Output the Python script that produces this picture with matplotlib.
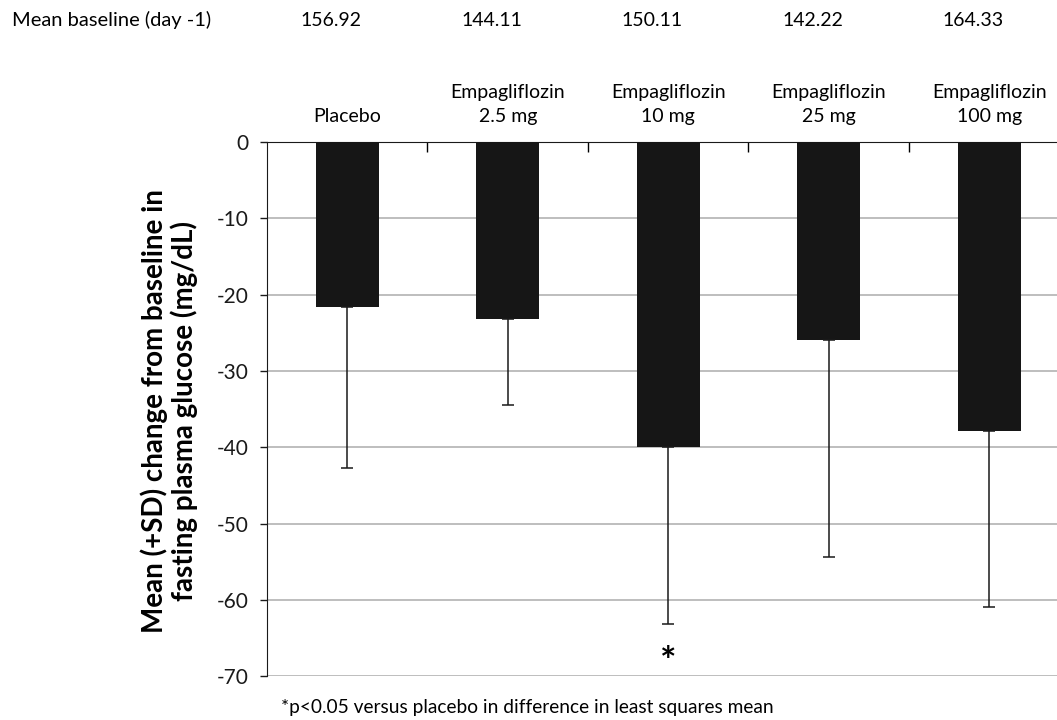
import matplotlib
matplotlib.use("Agg")
import matplotlib.pyplot as plt
import matplotlib.transforms as mtransforms

plt.rcParams['font.family'] = ['Lato', 'DejaVu Sans']
plt.rcParams['axes.unicode_minus'] = False

groups = ['Placebo', 'Empagliflozin\n2.5 mg', 'Empagliflozin\n10 mg',
          'Empagliflozin\n25 mg', 'Empagliflozin\n100 mg']
baseline = ['156.92', '144.11', '150.11', '142.22', '164.33']
mean_change = [-21.6, -23.2, -40.0, -26.0, -37.9]
sd = [21.1, 11.2, 23.2, 28.4, 23.0]
significant = [False, False, True, False, False]

fig = plt.figure(figsize=(10.57, 7.2), dpi=100)
ax = fig.add_axes([267 / 1057, 0.0607, 0.7592, 0.7421])

x = list(range(len(groups)))
ax.bar(x, mean_change, width=0.395, color='#161616', zorder=3)
ax.errorbar(x, mean_change, yerr=[sd, [0] * len(sd)], fmt='none',
            ecolor='#1a1a1a', elinewidth=1.1, capsize=4, capthick=1.1, zorder=4)

ax.set_xlim(-0.5, 4.5)
ax.set_ylim(-70, 0)
ax.set_yticks(range(-70, 1, 10))
ax.yaxis.grid(True, color='#b3b3b3', linewidth=1.2, zorder=0)
ax.tick_params(axis='y', direction='out', length=5, width=1, labelsize=15, pad=8,
               colors='#1a1a1a')

# category axis sits on top at zero
ax.xaxis.set_ticks_position('top')
ax.set_xticks([i + 0.5 for i in x[:-1]])
ax.set_xticklabels([])
ax.tick_params(axis='x', which='major', direction='in', length=7, width=1)
ax.set_xticks(x, minor=True)
ax.set_xticklabels(groups, minor=True, fontsize=14, linespacing=1.5)
ax.tick_params(axis='x', which='minor', length=0, pad=12, top=True, bottom=False,
               labeltop=True, labelbottom=False)

for s in ['right', 'bottom']:
    ax.spines[s].set_visible(False)
ax.spines['left'].set_color('#1a1a1a')
ax.spines['top'].set_color('#1a1a1a')

for i, flag in enumerate(significant):
    if flag:
        ax.text(i, -68.2, '*', ha='center', va='center', fontsize=28, fontweight='bold')

trans = mtransforms.blended_transform_factory(ax.transData, fig.transFigure)
top_y = 1 - 20 / 720
fig.text(12 / 1057, top_y, 'Mean baseline (day -1)', ha='left', va='center', fontsize=14.5)
for i, b in enumerate(baseline):
    ax.text(i - 0.1, top_y, b, transform=trans, ha='center', va='center', fontsize=14)

fig.text(169 / 1057, 1 - 411 / 720,
         'Mean (+SD) change from baseline in\nfasting plasma glucose (mg/dL)',
         rotation=90, ha='center', va='center', fontsize=20, fontweight='bold',
         linespacing=1.1)

fig.text(281 / 1057, 1 - 707 / 720,
         '*p<0.05 versus placebo in difference in least squares mean',
         ha='left', va='center', fontsize=13.8)

fig.savefig('out.png', dpi=100)
